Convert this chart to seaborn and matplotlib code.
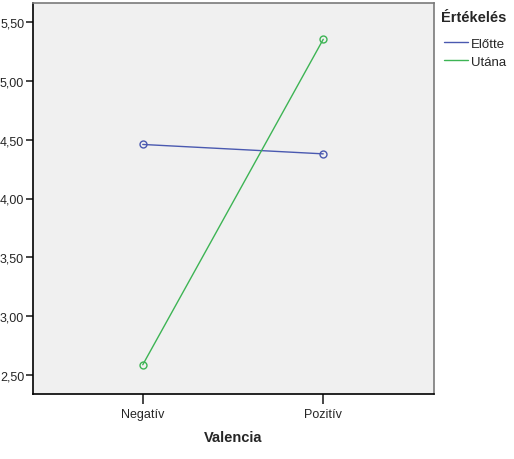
import matplotlib
matplotlib.use("Agg")
import matplotlib.pyplot as plt
import matplotlib.ticker as mticker
from matplotlib.lines import Line2D
import pandas as pd
import seaborn as sns

valencia = ["Negatív", "Pozitív"]
groups = ["Előtte", "Utána"]
elotte = [4.46, 4.38]
utana = [2.585, 5.355]
colors = {"Előtte": "#4a59b0", "Utána": "#3db454"}

df = pd.DataFrame({
    "Valencia": valencia * 2,
    "Értékelés": [groups[0]] * 2 + [groups[1]] * 2,
    "Érték": elotte + utana,
})

sns.set_style("white")
plt.rcParams["font.family"] = ["Liberation Sans", "DejaVu Sans"]

fig, ax = plt.subplots(figsize=(5.14, 4.60), dpi=100)
fig.subplots_adjust(left=32.5 / 514, right=433.5 / 514, top=1 - 4 / 460, bottom=1 - 395 / 460)

sns.lineplot(data=df, x="Valencia", y="Érték", hue="Értékelés", palette=colors,
             marker="o", markersize=5, linewidth=1, legend=False, ax=ax)
for line in ax.lines:
    line.set_markerfacecolor("none")
    line.set_markeredgecolor(line.get_color())
    line.set_markeredgewidth(1)

ax.set_facecolor("#f0f0f0")
ax.set_xlim(-0.611, 1.611)
ax.set_ylim(2.336, 5.664)
ax.set_yticks([2.5, 3.0, 3.5, 4.0, 4.5, 5.0, 5.5])
ax.yaxis.set_major_formatter(mticker.FuncFormatter(lambda v, p: f"{v:.2f}".replace(".", ",")))
ax.set_xticks([0, 1])
ax.set_xticklabels(valencia)

for side in ["left", "bottom"]:
    ax.spines[side].set_color("black")
    ax.spines[side].set_linewidth(1.2)
for side in ["top", "right"]:
    ax.spines[side].set_color("#7a7a7a")
    ax.spines[side].set_linewidth(1.2)

ax.tick_params(axis="y", direction="out", length=5, width=1.2, labelsize=9, pad=1, left=True)
ax.tick_params(axis="x", direction="out", length=7, width=1.2, labelsize=9, pad=3, bottom=True)

ax.set_xlabel("Valencia", fontsize=10.5, fontweight="bold", labelpad=7.5)
ax.set_ylabel("")

fig.text(441 / 514, 1 - 18 / 460, "Értékelés", fontsize=10.5, fontweight="bold",
         ha="left", va="center")
handles = [Line2D([0], [0], color=colors[g], lw=1) for g in groups]
leg = fig.legend(handles, groups, loc="upper left",
                 bbox_to_anchor=(439 / 514, 1 - 33 / 460), frameon=False,
                 fontsize=9.5, handlelength=1.8, handletextpad=0.25,
                 labelspacing=0.45, borderaxespad=0)

fig.savefig("out.png", dpi=100)
